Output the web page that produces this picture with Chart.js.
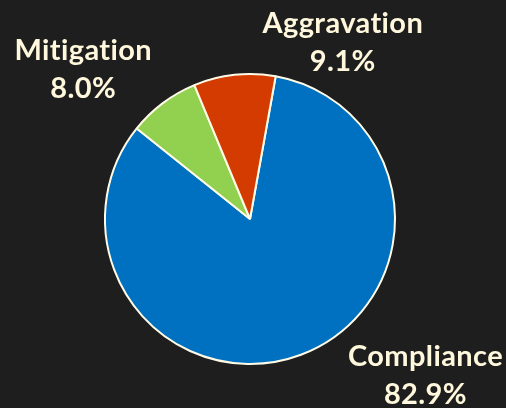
<!DOCTYPE html>
<html>
<head>
<meta charset="utf-8">
<script src="https://cdn.jsdelivr.net/npm/chart.js@4"></script>
<style>
html,body{margin:0;padding:0;background:#1e1e1e;}
#wrap{width:506px;height:408px;position:relative;}
</style>
</head>
<body>
<div id="wrap"><canvas id="c" width="506" height="408"></canvas></div>
<script>
const categories = ["Compliance", "Mitigation", "Aggravation"];
const shares = [82.9, 8.0, 9.1];
const percentLabels = ["82.9%", "8.0%", "9.1%"];
const colors = ["#0070C0", "#92D050", "#D43B00"];

// first-line baseline anchor relative to pie center, in units of radius
const labelOffsets = [[1.21, 1.015], [-1.15, -1.095], [0.64, -1.28]];

const labelPlugin = {
  id: 'outLabels',
  afterDatasetsDraw(chart) {
    const ctx = chart.ctx;
    const meta = chart.getDatasetMeta(0);
    ctx.save();
    ctx.fillStyle = '#FFF8DC';
    ctx.font = 'bold 29px Lato, "Open Sans", sans-serif';
    if ('letterSpacing' in ctx) ctx.letterSpacing = '0.4px';
    ctx.textAlign = 'center';
    ctx.textBaseline = 'alphabetic';
    meta.data.forEach((arc, i) => {
      const r = arc.outerRadius;
      const x = arc.x + labelOffsets[i][0] * r;
      const y = arc.y + labelOffsets[i][1] * r;
      ctx.fillText(categories[i], x, y);
      ctx.fillText(percentLabels[i], x, y + 38);
    });
    ctx.restore();
  }
};

new Chart(document.getElementById('c'), {
  type: 'pie',
  data: {
    labels: categories,
    datasets: [{
      data: shares,
      backgroundColor: colors,
      borderColor: '#FFFBE6',
      borderWidth: 2
    }]
  },
  options: {
    responsive: false,
    animation: false,
    rotation: 10.2,
    layout: { padding: { top: 73, bottom: 43, left: 104, right: 110 } },
    plugins: { legend: { display: false }, tooltip: { enabled: false } }
  },
  plugins: [labelPlugin]
});
</script>
</body>
</html>
